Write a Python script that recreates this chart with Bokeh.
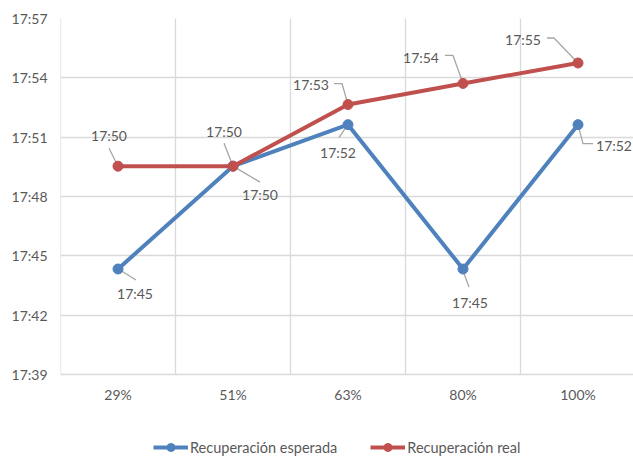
from bokeh.plotting import figure
from bokeh.models import FixedTicker, Legend, LegendItem, ColumnDataSource, Range1d
from bokeh.embed import file_html
from bokeh.resources import INLINE
from bokeh.core.properties import value

# ---- data ----
categories = ["29%", "51%", "63%", "80%", "100%"]
esperada = ["17:44:20", "17:49:32", "17:51:38", "17:44:20", "17:51:38"]
real = ["17:49:32", "17:49:32", "17:52:39", "17:53:43", "17:54:45"]
esperada_labels = ["17:45", "17:50", "17:52", "17:45", "17:52"]
real_labels = ["17:50", "17:50", "17:53", "17:54", "17:55"]
y_tick_labels = ["17:39", "17:42", "17:45", "17:48", "17:51", "17:54", "17:57"]
series_names = ["Recuperación esperada", "Recuperación real"]

# ---- styles ----
BLUE = "#4F81BD"
RED = "#C0504D"
GRID = "#D9D9D9"
TEXT = "#595959"
LEADER = "#A6A6A6"
FONT = "Lato"

FRAME_W = 573          # plot area width (px)
PLOT_H = 356           # height of the gridded area (px)
LEGEND_H = 83          # extra room under the grid for category labels + legend
PX_PER_CAT = 115.0

def to_min(s):
    parts = [int(v) for v in s.split(":")]
    while len(parts) < 3:
        parts.append(0)
    return parts[0] * 60 + parts[1] + parts[2] / 60.0

x = [i + 0.5 for i in range(len(categories))]
y_blue = [to_min(s) for s in esperada]
y_red = [to_min(s) for s in real]
y_ticks = [to_min(s) for s in y_tick_labels]
ymin, ymax = y_ticks[0], y_ticks[-1]
px_per_min = PLOT_H / (ymax - ymin)
y_bottom = ymin - LEGEND_H / px_per_min

p = figure(frame_width=FRAME_W, frame_height=PLOT_H + LEGEND_H, output_backend="svg",
           toolbar_location=None,
           x_range=Range1d(0, FRAME_W / PX_PER_CAT), y_range=Range1d(y_bottom, ymax),
           min_border_left=60, min_border_right=0, min_border_top=18, min_border_bottom=0)
p.outline_line_color = None
p.background_fill_color = "white"
p.border_fill_color = "white"

# y axis
p.xaxis.visible = False
p.yaxis.ticker = FixedTicker(ticks=y_ticks)
p.yaxis.major_label_overrides = {t: l for t, l in zip(y_ticks, y_tick_labels)}
p.yaxis.axis_line_color = None
p.yaxis.major_tick_line_color = None
p.yaxis.minor_tick_line_color = None
p.yaxis.major_tick_out = 0
p.yaxis.major_label_text_color = TEXT
p.yaxis.major_label_text_font = FONT
p.yaxis.major_label_text_font_size = "14px"
p.yaxis.major_label_standoff = 13

# grid
p.xgrid.visible = False
p.ygrid.ticker = FixedTicker(ticks=y_ticks)
p.ygrid.grid_line_color = GRID
p.ygrid.grid_line_width = 1.3
gx = list(range(len(categories) + 1))
p.segment(x0=gx, y0=[ymin] * len(gx), x1=gx, y1=[ymax] * len(gx),
          line_color=GRID, line_width=1.3)

# category labels
p.text(x=x, y=[ymin] * len(x), text=categories, y_offset=20,
       text_font=value(FONT), text_font_size="14px", text_color=TEXT,
       text_align="center", text_baseline="middle")

# leader lines (pixel offsets from point, converted to data units)
blue_leaders = [[(2, 1), (18, 11)], [(0, 0), (27, 16)], [(-3, 4), (-9, 13)],
                [(0, 2), (6, 18)], [(0, 0), (5, 19), (15, 19)]]
red_leaders = [[(0, 0), (-9, -18)], [(0, 0), (-9, -23)], [(0, 0), (-6, -21), (-14, -21)],
               [(0, 0), (-10, -28), (-18, -28)], [(0, 0), (-24, -25), (-31, -25)]]

def leader_xy(xs, ys, offs):
    lx, ly = [], []
    for xi, yi, o in zip(xs, ys, offs):
        lx.append([xi + dx / PX_PER_CAT for dx, dy in o])
        ly.append([yi - dy / px_per_min for dx, dy in o])
    return lx, ly

for xs_, ys_, offs in ((x, y_blue, blue_leaders), (x, y_red, red_leaders)):
    lx, ly = leader_xy(xs_, ys_, offs)
    p.multi_line(lx, ly, line_color=LEADER, line_width=1.3)

# series
r_bl = p.line(x, y_blue, line_color=BLUE, line_width=4)
r_bc = p.scatter(x, y_blue, size=10, fill_color=BLUE, line_color=BLUE)
r_rl = p.line(x, y_red, line_color=RED, line_width=4)
r_rc = p.scatter(x, y_red, size=10, fill_color=RED, line_color=RED)

# data labels
blue_off = [(17, 24), (27, 28), (-10, 28), (7, 33), (36, 21)]
red_off = [(-9, -31), (-9, -35), (-37, -20), (-42, -26), (-55, -24)]
for ys_, labs, offs in ((y_blue, esperada_labels, blue_off), (y_red, real_labels, red_off)):
    src = ColumnDataSource(dict(x=x, y=ys_, t=labs,
                                dx=[o[0] for o in offs], dy=[o[1] for o in offs]))
    p.text(x="x", y="y", text="t", x_offset="dx", y_offset="dy", source=src,
           text_font=value(FONT), text_font_size="14px", text_color=TEXT,
           text_align="center", text_baseline="middle")

legend = Legend(items=[LegendItem(label=series_names[0], renderers=[r_bl, r_bc]),
                       LegendItem(label=series_names[1], renderers=[r_rl, r_rc])],
                orientation="horizontal", location=(93, 0),
                label_text_font=FONT, label_text_font_size="14.5px", label_text_color=TEXT,
                glyph_width=35, glyph_height=20, spacing=33, margin=0, padding=0,
                label_height=16,
                border_line_color=None, background_fill_alpha=0, label_standoff=2)
p.add_layout(legend, "center")

open("out.html", "w").write(file_html(p, INLINE))
